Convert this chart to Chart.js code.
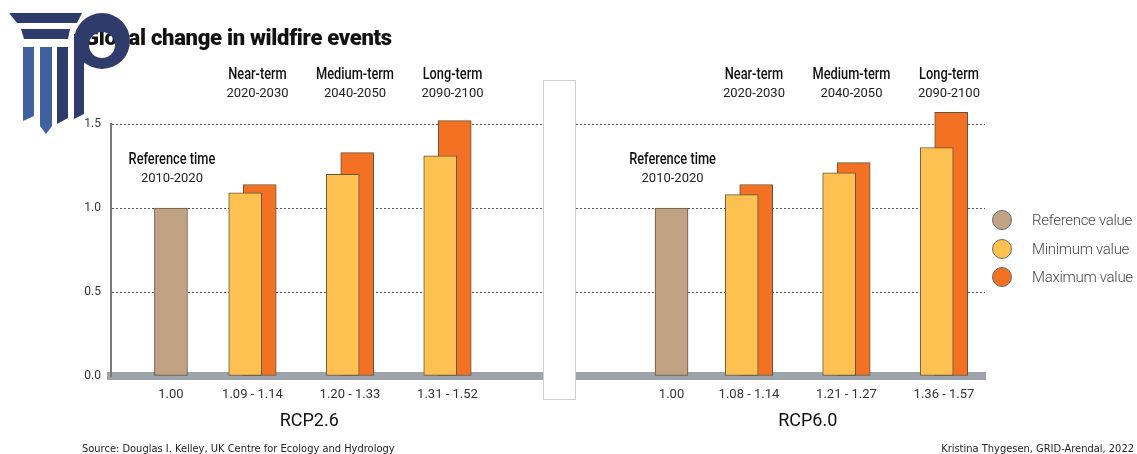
<!DOCTYPE html>
<html>
<head>
<meta charset="utf-8">
<title>Global change in wildfire events</title>
<script src="https://cdn.jsdelivr.net/npm/chart.js@4.4.1/dist/chart.umd.min.js"></script>
<style>
  html, body { margin: 0; padding: 0; background: #fff; }
  body { width: 1137px; height: 454px; position: relative; overflow: hidden; font-family: Roboto, sans-serif; }
  canvas { position: absolute; top: 0; }
  #chartLeft { left: 0; }
  #chartRight { left: 560px; }
  .title { position: absolute; left: 84px; top: 25px; font: 900 22px Roboto, sans-serif; color: #111; letter-spacing: -0.3px; }
  .logo { position: absolute; left: 0; top: 0; }
  .divider { position: absolute; left: 543px; top: 80px; width: 31px; height: 318px; background: #fff; border: 1px solid #cfcfcf; }
  .legend { position: absolute; left: 992px; top: 206px; }
  .legend div { height: 28.5px; display: flex; align-items: center; font: 300 15px Roboto, sans-serif; color: #444; letter-spacing: -0.3px; }
  .legend span { width: 20px; height: 20px; border-radius: 50%; border: 1px solid #6a6a6a; margin-right: 20px; box-sizing: border-box; }
  .footer { position: absolute; top: 442px; font: 11px "Liberation Sans Narrow", "DejaVu Sans Condensed", sans-serif; color: #222; }
</style>
</head>
<body>
<canvas id="chartLeft" width="560" height="454"></canvas>
<canvas id="chartRight" width="440" height="454"></canvas>

<div class="title">Global change in wildfire events</div>

<svg class="logo" width="140" height="140" viewBox="0 0 140 140">
  <polygon points="9,13 82,13 77,23 17,23" fill="#2f3b6b"/>
  <polygon points="21,29 70,29 68,39 24,39" fill="#2f3b6b"/>
  <polygon points="23,47 34,47 34,116 23,121" fill="#41609e"/>
  <polygon points="40,47 52,47 52,126 46,134 40,126" fill="#41609e"/>
  <polygon points="57,47 68,47 68,118 57,124" fill="#2f3b6b"/>
  <polygon points="74,34 84,34 84,114 74,119" fill="#2f3b6b"/>
  <path fill="#2f3b6b" fill-rule="evenodd"
        d="M 74 41 A 28 28 0 1 1 130 41 A 28 28 0 1 1 74 41 Z
           M 89 45 A 13 13 0 1 0 115 45 A 13 13 0 1 0 89 45 Z"/>
</svg>

<div class="divider"></div>

<div class="legend" id="legend"></div>

<div class="footer" style="left:82px;">Source: Douglas I. Kelley, UK Centre for Ecology and Hydrology</div>
<div class="footer" style="right:3px;">Kristina Thygesen, GRID-Arendal, 2022</div>

<script>
// periods shown above the bars (index 0 is the reference period)
const periodNames = ["Reference time", "Near-term", "Medium-term", "Long-term"];
const periodYears = ["2010-2020", "2020-2030", "2040-2050", "2090-2100"];

const seriesNames = ["Reference value", "Minimum value", "Maximum value"];

// RCP2.6
const rcp26Ref = [1.00, null, null, null];
const rcp26Min = [null, 1.09, 1.20, 1.31];
const rcp26Max = [null, 1.14, 1.33, 1.52];

// RCP6.0
const rcp60Ref = [1.00, null, null, null];
const rcp60Min = [null, 1.08, 1.21, 1.36];
const rcp60Max = [null, 1.14, 1.27, 1.57];

const yTicks = [0, 0.5, 1.0, 1.5];

const refColor = "#c1a283";
const minColor = "#fdc151";
const maxColor = "#f37122";
const barBorder = "#65533f";
const labelFont = "Roboto, sans-serif";

const periodSpacing = 97.5; // px between two periods
const barWidth = 33;
const pairShift = 7.25;     // min bar sits left, max bar right of the period centre

function rangeLabels(ref, min, max) {
  return ref.map((r, i) => (r !== null ? r.toFixed(2) : min[i].toFixed(2) + " - " + max[i].toFixed(2)));
}

function points(values) {
  return values.map((v, i) => ({ x: i, y: v })).filter((p) => p.y !== null);
}

// condensed look for the period headers
function narrowText(ctx, text, x, y, squeeze) {
  ctx.save();
  ctx.translate(x, y);
  ctx.scale(squeeze, 1);
  ctx.fillText(text, 0, 0);
  ctx.restore();
}

// period names, years, the reference value label and the scenario name
const periodLabels = {
  id: "periodLabels",
  afterDraw(chart, args, opts) {
    const { ctx } = chart;
    const x = chart.scales.x;
    const xr = chart.scales.xr;
    const pixelOf = (i) => (i === 0 ? xr.getPixelForValue(0) : x.getPixelForValue(i));
    ctx.save();
    ctx.textAlign = "center";
    ctx.textBaseline = "middle";
    periodNames.forEach((name, i) => {
      const px = pixelOf(i) + (i === 0 ? 1 : 5);
      const top = i === 0 ? 160 : 75;
      ctx.fillStyle = "#111";
      ctx.font = "500 16px " + labelFont;
      narrowText(ctx, name, px, top, 0.8);
      ctx.fillStyle = "#222";
      ctx.font = "13px " + labelFont;
      ctx.fillText(periodYears[i], px, top + 19);
    });
    // value label under the reference bar, same line as the x ticks
    ctx.fillStyle = "#333";
    ctx.font = "13px " + labelFont;
    ctx.fillText(opts.labels[0], pixelOf(0), x.top + 19);

    ctx.fillStyle = "#111";
    ctx.font = "18px " + labelFont;
    const mid = (pixelOf(0) + pixelOf(periodNames.length - 1)) / 2;
    ctx.fillText(opts.scenario, mid, 421);
    ctx.restore();
  },
};

// hidden axis for one series, shifted by a number of pixels
function hiddenAxis(min, max, shiftPx) {
  const s = shiftPx / periodSpacing;
  return { type: "linear", display: false, offset: false, min: min - s, max: max - s };
}

function makeChart(id, scenario, ref, min, max, layout) {
  const labels = rangeLabels(ref, min, max);
  const barOpts = {
    borderColor: barBorder,
    borderWidth: 1,
    borderSkipped: false,
    grouped: false,
    barThickness: barWidth,
    clip: false,
  };
  return new Chart(document.getElementById(id), {
    type: "bar",
    data: {
      datasets: [
        { ...barOpts, label: seriesNames[0], data: points(ref), backgroundColor: refColor, xAxisID: "xr" },
        { ...barOpts, label: seriesNames[1], data: points(min), backgroundColor: minColor, xAxisID: "xn" },
        { ...barOpts, label: seriesNames[2], data: points(max), backgroundColor: maxColor, xAxisID: "xm" },
      ],
    },
    plugins: [periodLabels],
    options: {
      responsive: false,
      animation: false,
      layout: { padding: layout.padding },
      plugins: {
        legend: { display: false },
        tooltip: { enabled: false },
        periodLabels: { scenario: scenario, labels: labels },
      },
      scales: {
        x: {
          type: "linear",
          offset: false,
          min: layout.xMin,
          max: layout.xMax,
          afterBuildTicks: (axis) => {
            axis.ticks = labels.slice(1).map((_, i) => ({ value: i + 1 }));
          },
          afterFit: (axis) => {
            axis.height = 40;
          },
          ticks: {
            autoSkip: false,
            maxRotation: 0,
            padding: 11,
            color: "#333",
            font: { family: labelFont, size: 13 },
            callback: (value) => labels[value],
          },
          grid: { display: false, drawTicks: false, offset: false },
          border: { display: true, color: "#9da3aa", width: 8 },
        },
        xr: { type: "linear", display: false, offset: false, min: layout.refMin, max: layout.refMax },
        xn: hiddenAxis(layout.xMin, layout.xMax, -pairShift),
        xm: hiddenAxis(layout.xMin, layout.xMax, pairShift),
        y: {
          min: 0,
          max: 1.5,
          afterBuildTicks: (axis) => {
            axis.ticks = yTicks.map((v) => ({ value: v }));
          },
          afterFit: (axis) => {
            axis.width = layout.yWidth;
          },
          ticks: {
            display: layout.yLabels,
            padding: 10,
            color: "#333",
            font: { family: labelFont, size: 12 },
            callback: (value) => value.toFixed(1),
          },
          grid: { color: "#555", lineWidth: 1, drawTicks: false },
          border: { display: layout.yLabels, color: "#7a7a7a", width: 2, dash: [2, 2] },
        },
      },
    },
  });
}

makeChart("chartLeft", "RCP2.6", rcp26Ref, rcp26Min, rcp26Max, {
  padding: { left: 71, top: 124, right: 0, bottom: 38 },
  yWidth: 40,
  yLabels: true,
  xMin: -0.451,
  xMax: 4.154,
  refMin: -0.615,
  refMax: 3.99,
});

makeChart("chartRight", "RCP6.0", rcp60Ref, rcp60Min, rcp60Max, {
  padding: { left: 0, top: 124, right: 15, bottom: 38 },
  yWidth: 0,
  yLabels: false,
  xMin: -0.938,
  xMax: 3.421,
  refMin: -1.144,
  refMax: 3.215,
});

// legend
const legendColors = [refColor, minColor, maxColor];
const legendDiv = document.getElementById("legend");
seriesNames.forEach((name, i) => {
  const row = document.createElement("div");
  row.innerHTML = `<span style="background:${legendColors[i]}"></span>${name}`;
  legendDiv.appendChild(row);
});
</script>
</body>
</html>
